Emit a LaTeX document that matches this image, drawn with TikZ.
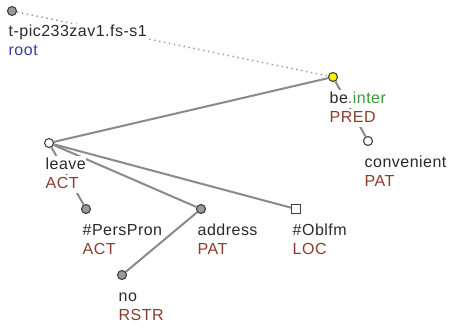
\documentclass[tikz,border=0pt]{standalone}
\usepackage{fontspec}
\setmainfont{Liberation Sans}[LetterSpace=3]
\definecolor{txt}{HTML}{2A2A2A}
\definecolor{fun}{HTML}{8E3B2F}
\definecolor{rootblue}{HTML}{3B3BB0}
\definecolor{grn}{HTML}{3A9A3A}
\definecolor{edgegray}{HTML}{8A8A8A}
\definecolor{dotgray}{HTML}{A0A0A0}
\definecolor{ndgray}{HTML}{9A9A9A}
\pgfdeclarelayer{bg}
\pgfsetlayers{bg,main}
\tikzset{
  tnode/.style={circle,draw=black!75,line width=1.1pt,minimum size=9pt,inner sep=0pt},
  gnode/.style={tnode,fill=ndgray},
  wnode/.style={tnode,fill=white},
  ynode/.style={tnode,fill=yellow},
  snode/.style={rectangle,draw=black!75,line width=1.1pt,minimum size=9pt,inner sep=0pt,fill=white},
  lab/.style={anchor=base west,inner xsep=0.5pt,inner ysep=0pt,fill=white,text height=13pt,text depth=5pt,font=\fontsize{16}{19}\selectfont},
  lemma/.style={lab,text=txt},
  func/.style={lab,text=fun},
  tedge/.style={draw=edgegray,line width=2pt},
  redge/.style={draw=dotgray,line width=1.5pt,dash pattern=on 1.5pt off 3.5pt}
}
\begin{document}
\begin{tikzpicture}[x=1pt,y=-1pt]
\useasboundingbox (0,0) rectangle (449,329);
% tree nodes
\node[gnode] (root) at (12,11) {};
\node[ynode] (be) at (333,77) {};
\node[wnode] (conv) at (368,141) {};
\node[wnode] (leave) at (49,143) {};
\node[gnode] (pp) at (86,209) {};
\node[gnode] (addr) at (201,209) {};
\node[snode] (obl) at (296,209) {};
\node[gnode] (no) at (122,275) {};
% labels
\node[lemma] (rootA) at (8,37) {t-pic233zav1.fs-s1};
\node[lab,text=rootblue] (rootB) at (8,56) {root};
\node[lemma] (beA) at (329,103) {be\textcolor{grn}{.inter}};
\node[func] (beB) at (329,122) {PRED};
\node[lemma] (convA) at (364,167) {convenient};
\node[func] (convB) at (364,186) {PAT};
\node[lemma] (leaveA) at (45,169) {leave};
\node[func] (leaveB) at (45,188) {ACT};
\node[lemma] (ppA) at (82,235) {\#PersPron};
\node[func] (ppB) at (82,254) {ACT};
\node[lemma] (addrA) at (197,235) {address};
\node[func] (addrB) at (197,254) {PAT};
\node[lemma] (oblA) at (292,235) {\#Oblfm};
\node[func] (oblB) at (292,254) {LOC};
\node[lemma] (noA) at (118,301) {no};
\node[func] (noB) at (118,320) {RSTR};
% edges
\begin{pgfonlayer}{bg}
\draw[redge] (root) -- (be);
\draw[tedge] (be) -- (leave);
\draw[tedge] (be) -- (conv);
\draw[tedge] (leave) -- (pp);
\draw[tedge] (leave) -- (addr);
\draw[tedge] (leave) -- (obl);
\draw[tedge] (addr) -- (no);
\end{pgfonlayer}
\end{tikzpicture}
\end{document}
